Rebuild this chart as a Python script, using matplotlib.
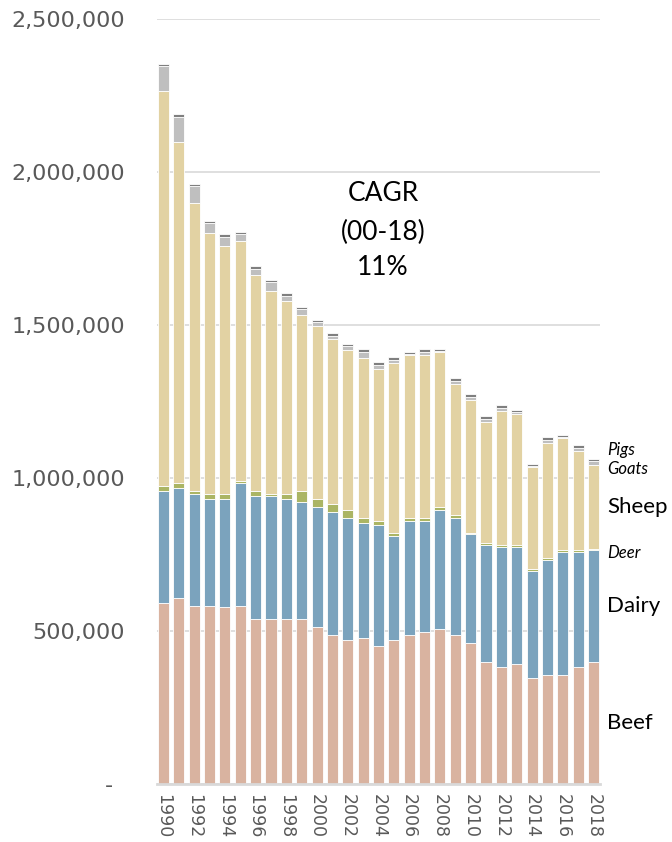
import matplotlib
matplotlib.use("Agg")
import matplotlib.pyplot as plt
import matplotlib.transforms as mtransforms
import numpy as np

years = list(range(1990, 2019))
beef = [591500, 608800, 583300, 583300, 576800, 583300, 540200, 540200, 540200, 540200,
        514100, 486900, 470600, 478100, 452000, 470600, 486900, 496700, 505600, 486900,
        459800, 398700, 383300, 392200, 347400, 356200, 356200, 383300, 398700]
dairy = [366000, 357500, 365400, 348000, 354600, 400300, 400000, 400000, 391200, 382400,
         391200, 402000, 399700, 374800, 392800, 338900, 374200, 364400, 390900, 383300,
         357200, 382400, 391200, 382400, 348700, 374200, 401000, 373900, 365400]
deer = [16300, 17300, 8800, 16300, 16300, 7500, 17300, 7500, 16300, 35000,
        26100, 24500, 25200, 17300, 16300, 9200, 9200, 9200, 7800, 8800,
        2300, 4900, 6500, 6500, 7500, 9200, 7500, 7500, 2900]
sheep = [1290900, 1114400, 939600, 854600, 810500, 785000, 704300, 661800, 629100, 575200,
         566300, 540900, 523900, 521900, 496700, 556200, 530700, 530700, 506500, 427100,
         434600, 398000, 436900, 428100, 332400, 373900, 366000, 322600, 276500]
goats = [81700, 83300, 57200, 31000, 31000, 21200, 21200, 30100, 19000, 19600,
         10500, 9800, 10500, 21200, 12400, 10800, 4200, 11800, 2600, 10800,
         10800, 8800, 10800, 4900, 3300, 10800, 3300, 10800, 10500]
pigs = [6500, 8200, 6500, 6500, 7200, 6500, 8800, 7500, 7800, 7500,
        8200, 8800, 8200, 8200, 7800, 8800, 6500, 8800, 7200, 8800,
        8800, 9800, 8800, 7200, 6500, 8800, 7500, 8800, 9200]

series_names = ["Beef", "Dairy", "Deer", "Sheep", "Goats", "Pigs"]
series_values = [beef, dairy, deer, sheep, goats, pigs]
series_colors = ["#d9b3a0", "#7ba3bd", "#abb564", "#e2d2a3", "#bfbfbf", "#7f7f7f"]

ytick_values = [0, 500000, 1000000, 1500000, 2000000, 2500000]
ytick_labels = ["-", "500,000", "1,000,000", "1,500,000", "2,000,000", "2,500,000"]

cagr_lines = ["CAGR", "(00-18)", "11%"]

fig = plt.figure(figsize=(6.72, 8.42), dpi=100)
ax = fig.add_axes([157 / 672, 58 / 842, 443 / 672, 765 / 842])

x = np.arange(len(years))
bottom = np.zeros(len(years))
for name, vals, col in zip(series_names, series_values, series_colors):
    v = np.array(vals, dtype=float)
    ax.bar(x, v, bottom=bottom, width=0.72, color=col, edgecolor="white",
           linewidth=0.6, zorder=3, label=name)
    bottom += v

ax.set_xlim(-0.42, len(years) - 1 + 0.42)
ax.set_ylim(0, 2500000)

ax.set_yticks(ytick_values)
ax.set_yticklabels(ytick_labels)
ax.tick_params(axis="y", length=0, pad=23, labelsize=16, labelcolor="#595959")
ax.yaxis.get_major_ticks()[0].set_pad(32)

xt = [i for i, yr in enumerate(years) if yr % 2 == 0]
ax.set_xticks(xt)
ax.set_xticklabels([str(years[i]) for i in xt], rotation=-90)
ax.tick_params(axis="x", length=0, pad=7, labelsize=12.5, labelcolor="#595959")

ax.grid(axis="y", color="#d9d9d9", linewidth=1.2, zorder=0)
ax.set_axisbelow(True)
for s in ["top", "right", "left"]:
    ax.spines[s].set_visible(False)
ax.spines["bottom"].set_color("#d9d9d9")
ax.spines["bottom"].set_linewidth(2)
ax.spines["bottom"].set_zorder(4)

trans = mtransforms.blended_transform_factory(ax.transAxes, ax.transData)

# CAGR annotation
cagr_y = [1931000, 1804000, 1689000]
for txt, yy in zip(cagr_lines, cagr_y):
    ax.text(0.51, yy, txt, transform=trans, ha="center", va="center",
            fontsize=19, family="Lato", color="black")

# right-side labels
lx = 1.016
b18 = beef[-1]
d18 = dairy[-1]
e18 = deer[-1]
s18 = sheep[-1]
ax.text(lx, b18 / 2, "Beef", transform=trans, ha="left", va="center", fontsize=16, family="Lato")
ax.text(lx, b18 + d18 / 2, "Dairy", transform=trans, ha="left", va="center", fontsize=16, family="Lato")
ax.text(lx, 755000, "Deer", transform=trans, ha="left", va="center", fontsize=12, family="Lato", style="italic")
ax.text(lx, b18 + d18 + e18 + s18 / 2, "Sheep", transform=trans, ha="left", va="center", fontsize=16, family="Lato")
ax.text(lx, 1030000, "Goats", transform=trans, ha="left", va="center", fontsize=12, family="Lato", style="italic")
ax.text(lx, 1090000, "Pigs", transform=trans, ha="left", va="center", fontsize=12, family="Lato", style="italic")

fig.savefig("out.png", dpi=100)
